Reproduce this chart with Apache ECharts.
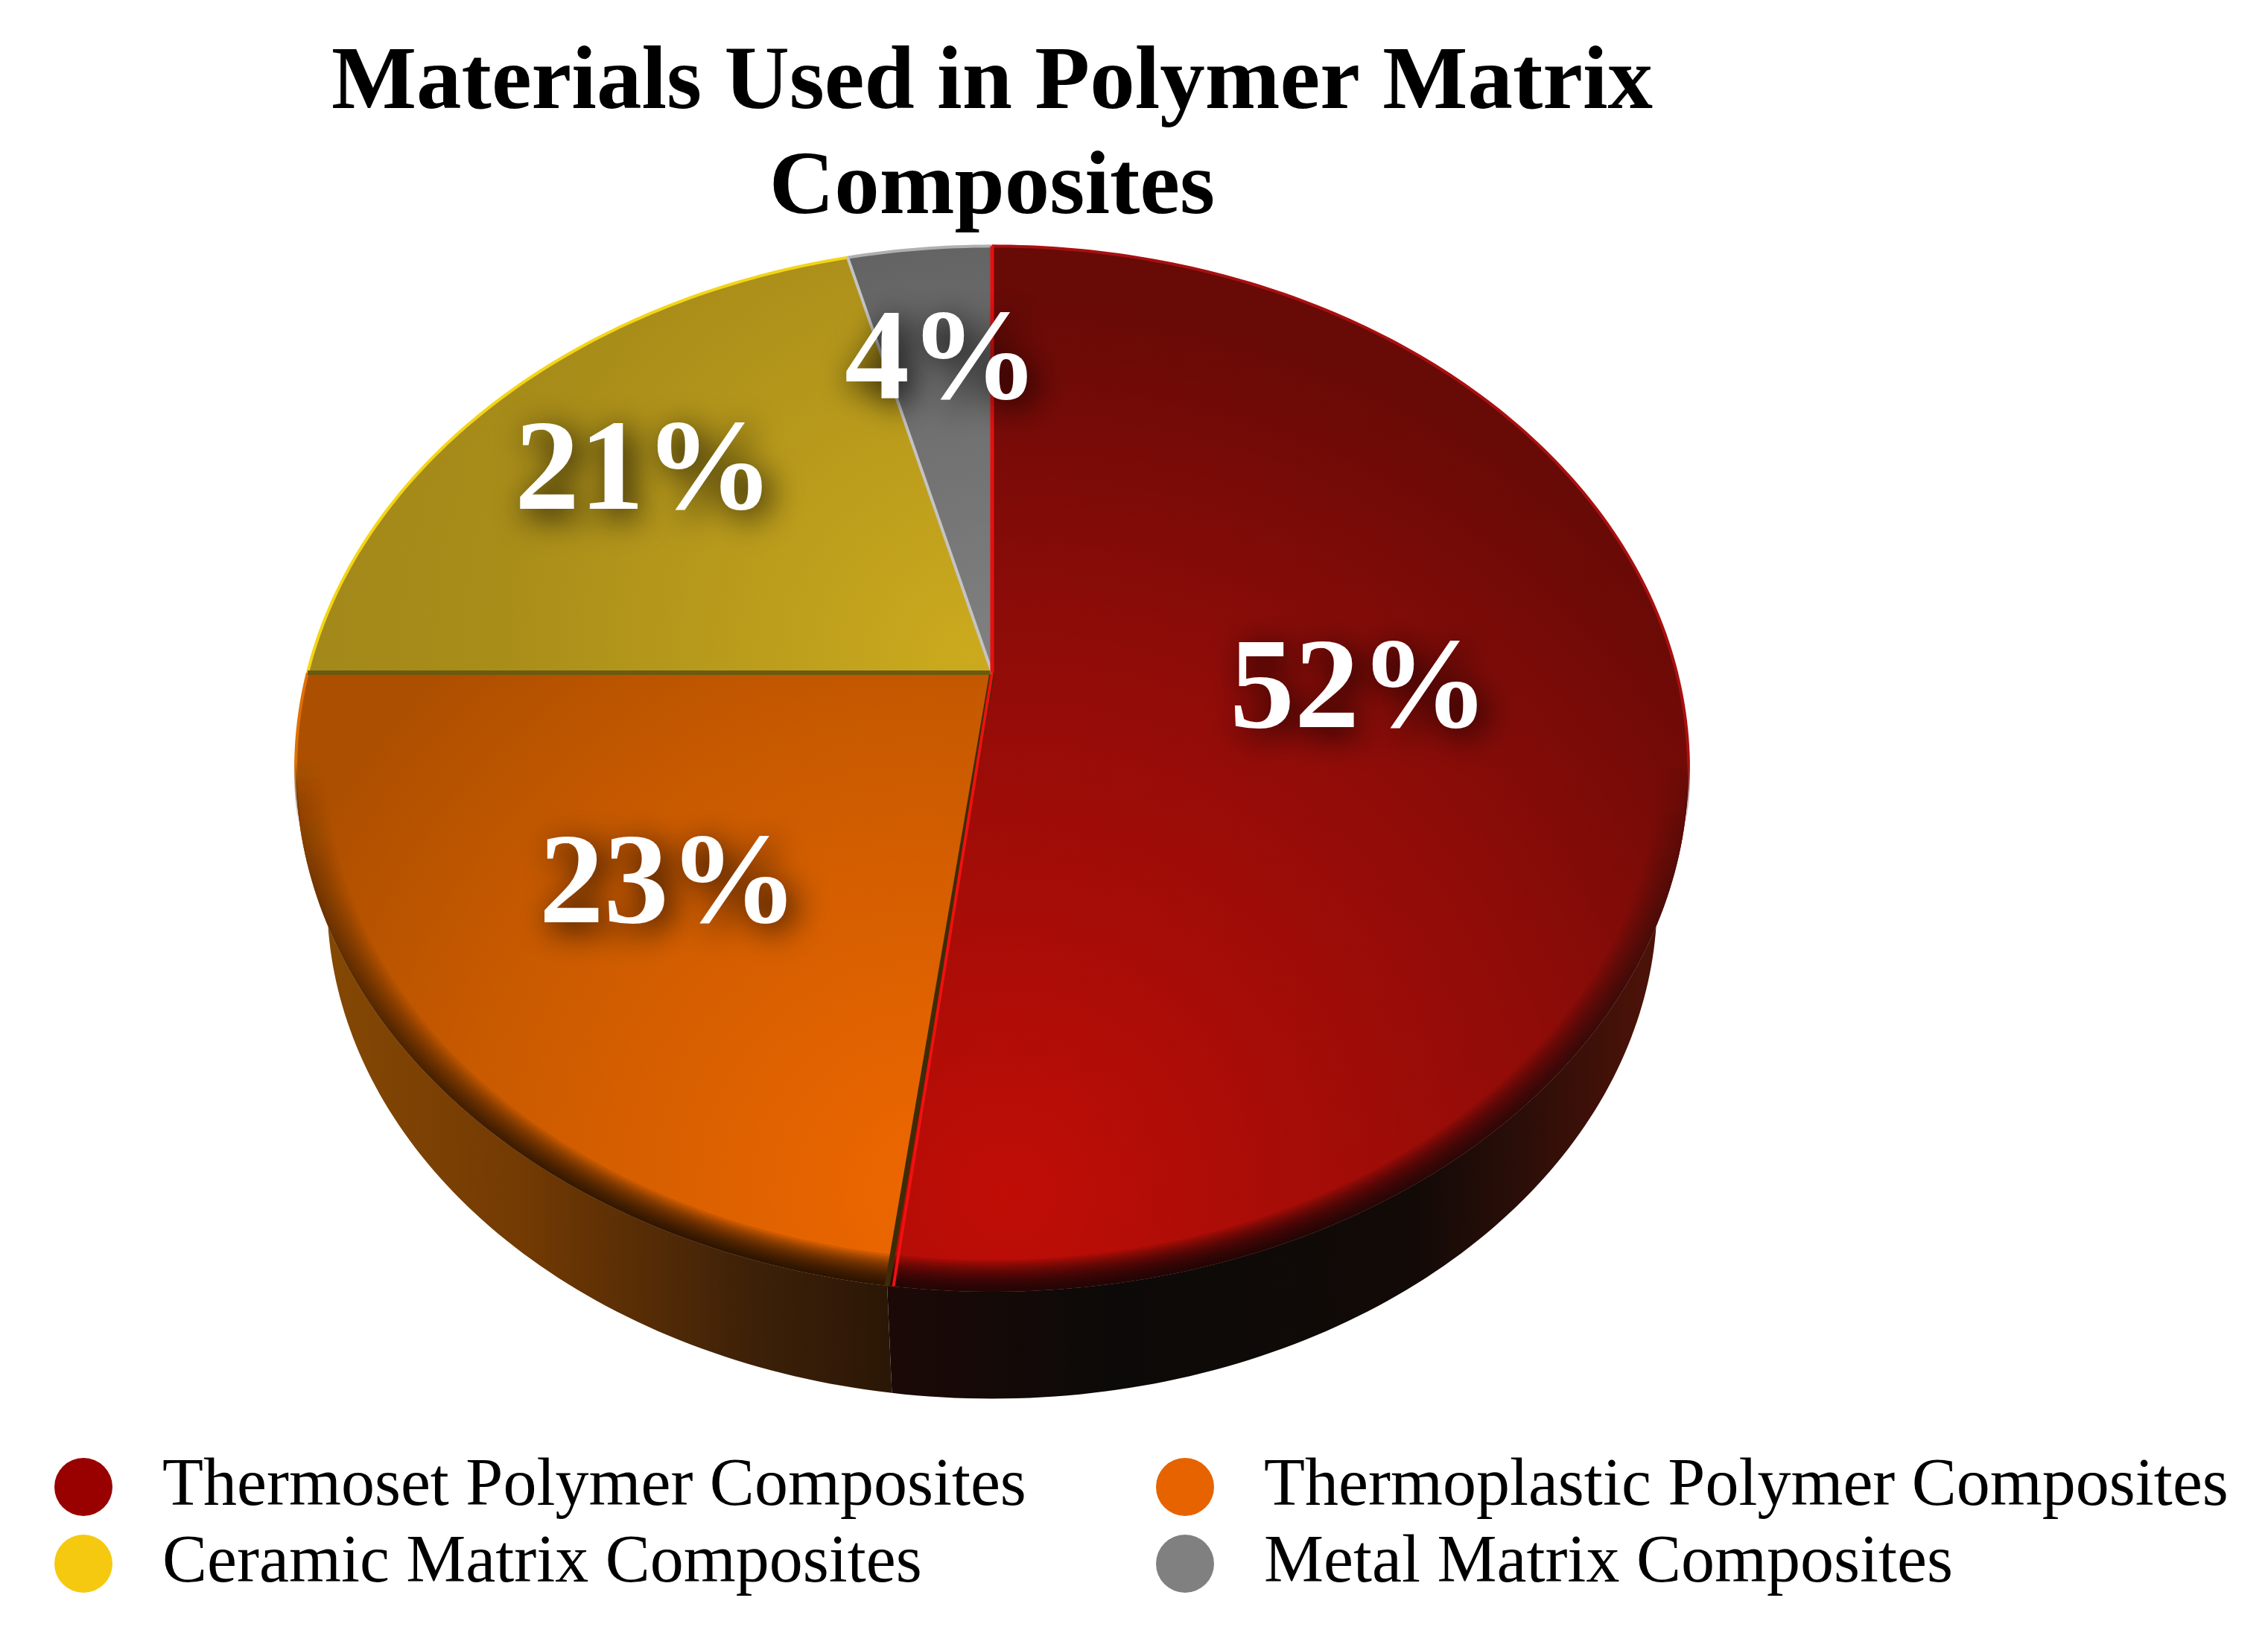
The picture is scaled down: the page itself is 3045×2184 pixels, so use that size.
<!DOCTYPE html>
<html>
<head>
<meta charset="utf-8">
<title>Materials Used in Polymer Matrix Composites</title>
<style>
  html, body { margin: 0; padding: 0; background: #fff; }
  #chart { width: 3045px; height: 2184px; }
</style>
<script src="https://cdn.jsdelivr.net/npm/echarts@6/dist/echarts.min.js"></script>
</head>
<body>
<div id="chart"></div>
<script>
const categories = ['Thermoset Polymer Composites', 'Thermoplastic Polymer Composites', 'Ceramic Matrix Composites', 'Metal Matrix Composites']
const shares = [52, 23, 21, 4]
const legendColors = ['#990000', '#e66300', '#f5c90f', '#808080']

// perspective disc
const APEX_X = 1332
const APEX_Y = 903
const RADIUS_X = 919
const RADIUS_Y = 678
const TILT = 0.184
const WALL_DROP = 181
const WALL_SCALE = 0.955
const LABEL_RADIUS = [0.53, 0.59, 0.7, 0.7]
const RG = echarts.graphic.RadialGradient
const LG = echarts.graphic.LinearGradient

const stops = (...list) => list.map(([offset, color]) => ({ offset, color }))

const faceFills = [
  new RG(1350, 1600, 1200, stops([0, '#c00d06'], [0.62, '#8f0c08'], [1, '#680a06']), true),
  new RG(1250, 1600, 960, stops([0, '#ee6700'], [0.65, '#c95a00'], [1, '#ad4f00']), true),
  new RG(1300, 880, 900, stops([0, '#cbaa1e'], [0.7, '#a98d19'], [1, '#a2881a']), true),
  new RG(1330, 880, 650, stops([0, '#808080'], [1, '#5f5f5f']), true)
]
const wallFill = (x0, x1, list) => new LG(x0, 0, x1, 0, stops(...list), true)
const wallFills = [
  wallFill(1190, 2200, [[0, '#1c0907'], [0.3, '#0c0a08'], [0.7, '#120a07'], [0.85, '#2c0e08'], [1, '#4a1208']]),
  wallFill(440, 1190, [[0, '#844804'], [0.35, '#733a03'], [0.75, '#3e2108'], [1, '#2b1706']]),
  '#3a2a05',
  '#222222'
]
const rimColors = ['#a81010', '#e07000', '#f4d516', '#b0b0b0']

const cumulative = shares.map((_, i) => shares.slice(0, i).reduce((a, b) => a + b, 0))
const total = shares.reduce((a, b) => a + b, 0)

// share position (0..total, clockwise from the top) -> screen point
const project = (pos, r, scale = 1, drop = 0) => {
  const a = (pos / total) * Math.PI * 2
  const u = r * Math.sin(a)
  const v = -r * Math.cos(a)
  const d = 1 - TILT * v
  return [APEX_X + (scale * RADIUS_X * u) / d, APEX_Y + drop + (scale * RADIUS_Y * v) / d]
}

const arc = (from, to, r, scale, drop) => {
  const pts = []
  const n = Math.max(2, Math.ceil((to - from) * 4))
  for (let i = 0; i <= n; i++) pts.push(project(from + ((to - from) * i) / n, r, scale, drop))
  return pts
}

const renderWall = (params, api) => {
  const i = api.value(0)
  const from = cumulative[i]
  const to = from + api.value(1)
  const points = arc(from, to, 1).concat(arc(from, to, 1, WALL_SCALE, WALL_DROP).reverse())
  return { type: 'polygon', shape: { points }, style: { fill: wallFills[i] } }
}

const renderFace = (index) => (params, api) => {
  const from = cumulative[index]
  const value = api.value(0)
  const to = from + value
  const apex = [APEX_X, APEX_Y]
  const children = [{
    type: 'polygon',
    shape: { points: [apex].concat(arc(from, to, 1)) },
    style: { fill: faceFills[index] }
  }]

  // soft dark bevel on the front of the rim
  for (let k = 1; k <= 14; k++) {
    const inner = 1 - k * 0.003
    children.push({
      type: 'polygon',
      shape: { points: arc(from, to, 1).concat(arc(from, to, inner).reverse()) },
      style: {
        fill: new LG(0, APEX_Y + 100, 0, APEX_Y + 800, stops([0, 'rgba(0,0,0,0)'], [1, 'rgba(0,0,0,0.11)']), true)
      }
    })
  }

  // thin highlight on the back of the rim
  children.push({
    type: 'polyline',
    shape: { points: arc(from, to, 1) },
    style: {
      fill: null,
      lineWidth: 4,
      stroke: new LG(0, APEX_Y - 600, 0, APEX_Y + 200, stops([0, rimColors[index]], [0.9, rimColors[index]], [1, 'rgba(0,0,0,0)']), true)
    }
  })

  // radial seams between the slices
  const seam = (pos, stroke, lineWidth) => ({
    type: 'polyline',
    shape: { points: [apex, project(pos, 1)] },
    style: { fill: null, stroke, lineWidth }
  })
  if (index === 1) children.push(seam(from, '#3d2c05', 7), seam(from - 0.12, '#f01010', 4))
  if (index === 2) children.push(seam(from, '#6b5a10', 6))
  if (index === 3) children.push(seam(from, '#c4c4c4', 4), seam(to, '#e81010', 5))

  const [x, y] = project(from + value / 2, LABEL_RADIUS[index])
  children.push({
    type: 'text',
    z2: 100,
    style: {
      text: value + '%',
      x: x + 4,
      y: y + 5,
      align: 'center',
      verticalAlign: 'middle',
      fill: '#fff',
      font: 'bold 174px "Liberation Serif", serif',
      textShadowColor: 'rgba(0,0,0,0.95)',
      textShadowBlur: 44,
      textShadowOffsetX: 9,
      textShadowOffsetY: 9
    }
  })
  return { type: 'group', children }
}

const faceSeries = categories.map((name, i) => ({
  name,
  type: 'custom',
  coordinateSystem: 'none',
  z: 3,
  silent: true,
  itemStyle: { color: legendColors[i] },
  data: [[shares[i]]],
  renderItem: renderFace(i)
}))

const legendBase = {
  orient: 'vertical',
  icon: 'circle',
  top: 1946,
  itemWidth: 78,
  itemHeight: 78,
  itemGap: 13,
  selectedMode: false,
  textStyle: { fontFamily: '"Liberation Serif", serif', fontSize: 90, color: '#000', padding: [0, 0, 0, 62] }
}

const chart = echarts.init(document.getElementById('chart'))
chart.setOption({
  backgroundColor: '#fff',
  animation: false,
  title: {
    text: 'Materials Used in Polymer Matrix\nComposites',
    left: 1327,
    top: 38,
    textAlign: 'center',
    textStyle: { fontFamily: '"Liberation Serif", serif', fontWeight: 'bold', fontSize: 121, lineHeight: 141, color: '#000' }
  },
  legend: [
    { ...legendBase, left: 68, data: [categories[0], categories[2]] },
    { ...legendBase, left: 1547, data: [categories[1], categories[3]] }
  ],
  series: [
    {
      name: 'side wall',
      type: 'custom',
      coordinateSystem: 'none',
      z: 1,
      silent: true,
      data: shares.map((v, i) => [i, v]),
      renderItem: renderWall
    },
    ...faceSeries
  ]
})
</script>
</body>
</html>
